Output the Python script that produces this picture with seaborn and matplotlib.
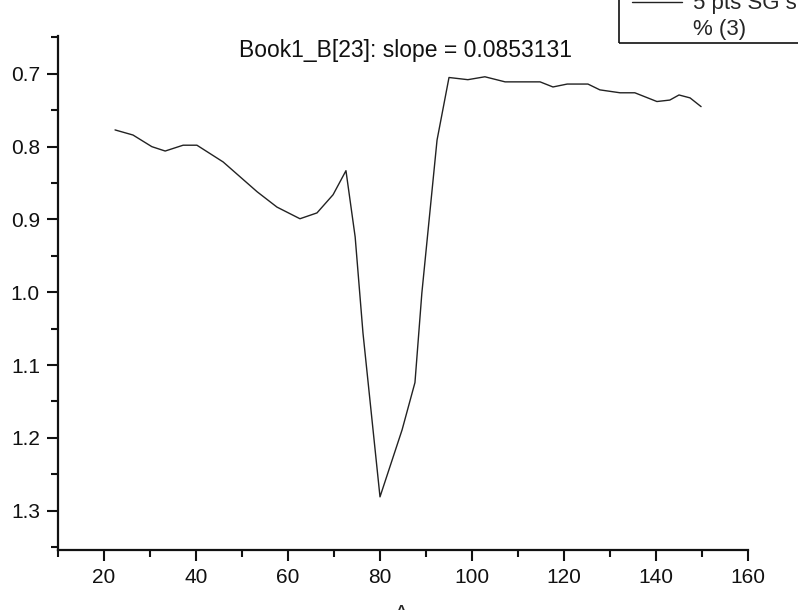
import numpy as np
import pandas as pd
import matplotlib.pyplot as plt
import seaborn as sns
from matplotlib.patches import Rectangle
from matplotlib.lines import Line2D
from matplotlib.ticker import MultipleLocator

# ----------------------------------------------------------------------
# data (5 pts SG smooth)
# ----------------------------------------------------------------------
x_vals = [22.4, 26.3, 30.4, 33.3, 37.2, 40.2, 45.9, 53.3, 57.6, 62.6,
          66.3, 69.8, 72.6, 74.6, 76.3, 80.0, 84.8, 87.6, 89.1, 92.4,
          95.0, 99.1, 102.8, 107.2, 114.8, 117.6, 120.7, 125.2, 127.8, 132.2,
          135.4, 140.2, 143.0, 145.0, 147.4, 149.8]
y_vals = [0.777, 0.784, 0.800, 0.806, 0.798, 0.798, 0.821, 0.862, 0.883, 0.899,
          0.891, 0.866, 0.833, 0.924, 1.056, 1.281, 1.189, 1.124, 1.001, 0.791,
          0.705, 0.708, 0.704, 0.711, 0.711, 0.718, 0.714, 0.714, 0.722, 0.726,
          0.726, 0.738, 0.736, 0.729, 0.733, 0.745]
x_ticks = [20, 40, 60, 80, 100, 120, 140, 160]
y_ticks = [0.7, 0.8, 0.9, 1.0, 1.1, 1.2, 1.3]
title_text = "Book1_B[23]: slope = 0.0853131"
legend_lines = ["5 pts SG smooth of B", "% (3)"]

df = pd.DataFrame({"A": x_vals, "B": y_vals})

sns.set_style("ticks")
plt.rcParams['font.family'] = ['Liberation Sans', 'DejaVu Sans']

W, H = 798, 610
fig = plt.figure(figsize=(W / 100, H / 100), dpi=100)
# axes box in pixels: left 58, right 748, top 36, bottom 550
ax = fig.add_axes([58 / W, 1 - 550 / H, 690 / W, 514 / H])

sns.lineplot(data=df, x="A", y="B", ax=ax, color="#222222", linewidth=1.0,
             sort=False, estimator=None)

ax.set_xlim(10, 160)
ax.set_ylim(1.354, 0.648)
ax.set_xticks(x_ticks)
ax.set_yticks(y_ticks)
ax.set_yticklabels([f"{v:.1f}" for v in y_ticks])
ax.xaxis.set_minor_locator(MultipleLocator(10))
ax.yaxis.set_minor_locator(MultipleLocator(0.05))
ax.tick_params(which="major", length=8, width=1.5, labelsize=15, colors="#111111")
ax.tick_params(which="minor", length=5, width=1.5, colors="#111111")
ax.tick_params(axis="y", pad=5)
ax.tick_params(axis="x", pad=5)
for side in ["top", "right"]:
    ax.spines[side].set_visible(False)
for side in ["left", "bottom"]:
    ax.spines[side].set_linewidth(1.6)
    ax.spines[side].set_color("#111111")
ax.set_xlabel("")
ax.set_ylabel("")

fig.text(405 / W, 1 - 50 / H, title_text, ha="center", va="center",
         fontsize=16.5, color="#111111")

# x label, mostly cut by the bottom edge like in the reference
fig.text(401 / W, 1 - 604 / H, "A", ha="center", va="top", fontsize=16)

# legend box partly outside the figure
fig.patches.append(Rectangle((619 / W, 1 - 43 / H), 0.3, 0.2,
                             transform=fig.transFigure, fill=False,
                             edgecolor="#111111", linewidth=1.2))
fig.lines.append(Line2D([632 / W, 682 / W], [1 - 2 / H, 1 - 2 / H],
                        transform=fig.transFigure, color="#222222", linewidth=1.0))
fig.text(693 / W, 1 - 4 / H, legend_lines[0], ha="left", va="center", fontsize=16)
fig.text(693 / W, 1 - 30 / H, legend_lines[1], ha="left", va="center", fontsize=16)

fig.savefig("out.png", dpi=100)
